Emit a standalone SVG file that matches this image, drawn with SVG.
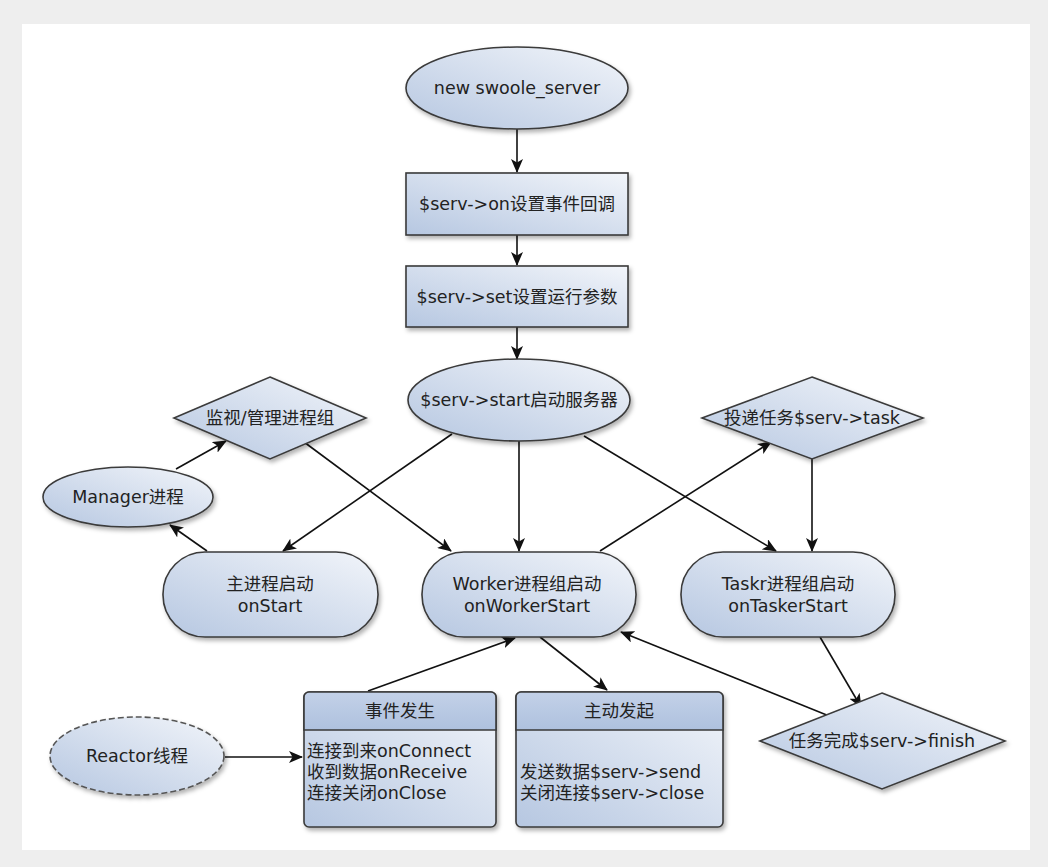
<svg xmlns="http://www.w3.org/2000/svg" width="1048" height="867" viewBox="0 0 1048 867">
<style>
.n{fill:url(#g);stroke:#3a3a3a;stroke-width:1.6;filter:url(#sh)}
.hd{fill:url(#gh);stroke:#3a3a3a;stroke-width:1.6}
.t{font-family:"DejaVu Sans","Noto Sans CJK SC",sans-serif;font-size:17.5px;fill:#222;text-anchor:middle}
.tl{font-family:"DejaVu Sans","Noto Sans CJK SC",sans-serif;font-size:17.5px;fill:#222}
.c line{stroke:#111;stroke-width:1.6;marker-end:url(#a)}
</style>
<defs>
<linearGradient id="g" x1="0" y1="1" x2="1" y2="0">
<stop offset="0" stop-color="#b6c7e1"/>
<stop offset="1" stop-color="#f2f5fa"/>
</linearGradient>
<linearGradient id="gh" x1="0" y1="0" x2="0" y2="1">
<stop offset="0" stop-color="#c3d1e8"/>
<stop offset="1" stop-color="#aec1de"/>
</linearGradient>
<filter id="sh" x="-10%" y="-10%" width="125%" height="130%">
<feDropShadow dx="2" dy="3" stdDeviation="2" flood-color="#000" flood-opacity="0.3"/>
</filter>
<marker id="a" viewBox="0 0 14 12" refX="13" refY="6" markerWidth="14" markerHeight="12" markerUnits="userSpaceOnUse" orient="auto">
<path d="M0,0 L14,6 L0,12 L3.5,6 Z" fill="#111"/>
</marker>
</defs>
<rect x="0" y="0" width="1048" height="867" fill="#eeeeee"/>
<rect x="22" y="24" width="1008" height="826" fill="#ffffff"/>

<g class="c">
<line x1="517" y1="129" x2="517" y2="172"/>
<line x1="517" y1="235" x2="517" y2="265"/>
<line x1="517" y1="327" x2="517" y2="359"/>
<line x1="452" y1="434" x2="283" y2="551"/>
<line x1="519" y1="441" x2="519" y2="551"/>
<line x1="584" y1="436" x2="776" y2="551"/>
<line x1="304" y1="442" x2="451" y2="551"/>
<line x1="207" y1="551" x2="170" y2="525"/>
<line x1="176" y1="469" x2="226" y2="441"/>
<line x1="600" y1="551" x2="771" y2="442"/>
<line x1="812" y1="459" x2="812" y2="551"/>
<line x1="820" y1="637" x2="861" y2="707"/>
<line x1="844" y1="722" x2="621" y2="632"/>
<line x1="368" y1="691" x2="515" y2="638"/>
<line x1="540" y1="637" x2="607" y2="690"/>
<line x1="225" y1="757" x2="302" y2="757"/>
</g>

<g id="new-server">
<ellipse class="n" cx="517" cy="88" rx="111" ry="41"/>
<text class="t" x="517" y="94">new swoole_server</text>
</g>
<g id="serv-on">
<rect class="n" x="406" y="173" width="222" height="62"/>
<text class="t" x="517" y="210">$serv-&gt;on设置事件回调</text>
</g>
<g id="serv-set">
<rect class="n" x="406" y="266" width="222" height="61"/>
<text class="t" x="517" y="303">$serv-&gt;set设置运行参数</text>
</g>
<g id="serv-start">
<ellipse class="n" cx="519" cy="400" rx="111" ry="41"/>
<text class="t" x="519" y="406">$serv-&gt;start启动服务器</text>
</g>
<g id="monitor">
<polygon class="n" points="270,377 366,418 270,459 174,418"/>
<text class="t" x="270" y="424">监视/管理进程组</text>
</g>
<g id="manager">
<ellipse class="n" cx="128" cy="497" rx="85" ry="30"/>
<text class="t" x="128" y="503">Manager进程</text>
</g>
<g id="master">
<rect class="n" x="163" y="552" width="215" height="85" rx="42" ry="42"/>
<text class="t" x="270" y="590">主进程启动</text>
<text class="t" x="270" y="612">onStart</text>
</g>
<g id="worker">
<rect class="n" x="422" y="552" width="214" height="85" rx="42" ry="42"/>
<text class="t" x="527" y="590">Worker进程组启动</text>
<text class="t" x="527" y="612">onWorkerStart</text>
</g>
<g id="task">
<polygon class="n" points="812,377 923,418 812,459 702,418"/>
<text class="t" x="812" y="424">投递任务$serv-&gt;task</text>
</g>
<g id="tasker">
<rect class="n" x="681" y="552" width="214" height="85" rx="42" ry="42"/>
<text class="t" x="788" y="590">Taskr进程组启动</text>
<text class="t" x="788" y="612">onTaskerStart</text>
</g>
<g id="finish">
<polygon class="n" points="882,693 1005,741 882,789 760,741"/>
<text class="t" x="882" y="747">任务完成$serv-&gt;finish</text>
</g>
<g id="reactor">
<ellipse cx="137" cy="756" rx="87" ry="39" fill="url(#g)" stroke="#555" stroke-width="1.6" stroke-dasharray="6,3" filter="url(#sh)"/>
<text class="t" x="137" y="762">Reactor线程</text>
</g>
<g id="events">
<rect class="n" x="304" y="692" width="192" height="135" rx="5" ry="5"/>
<path class="hd" d="M304,730 V697 a5,5 0 0 1 5,-5 H491 a5,5 0 0 1 5,5 V730 Z"/>
<text class="t" x="400" y="717">事件发生</text>
<text class="tl" x="307" y="757">连接到来onConnect</text>
<text class="tl" x="307" y="778">收到数据onReceive</text>
<text class="tl" x="307" y="799">连接关闭onClose</text>
</g>
<g id="active">
<rect class="n" x="516" y="692" width="207" height="135" rx="5" ry="5"/>
<path class="hd" d="M516,730 V697 a5,5 0 0 1 5,-5 H718 a5,5 0 0 1 5,5 V730 Z"/>
<text class="t" x="619" y="717">主动发起</text>
<text class="tl" x="520" y="778">发送数据$serv-&gt;send</text>
<text class="tl" x="520" y="799">关闭连接$serv-&gt;close</text>
</g>
</svg>
